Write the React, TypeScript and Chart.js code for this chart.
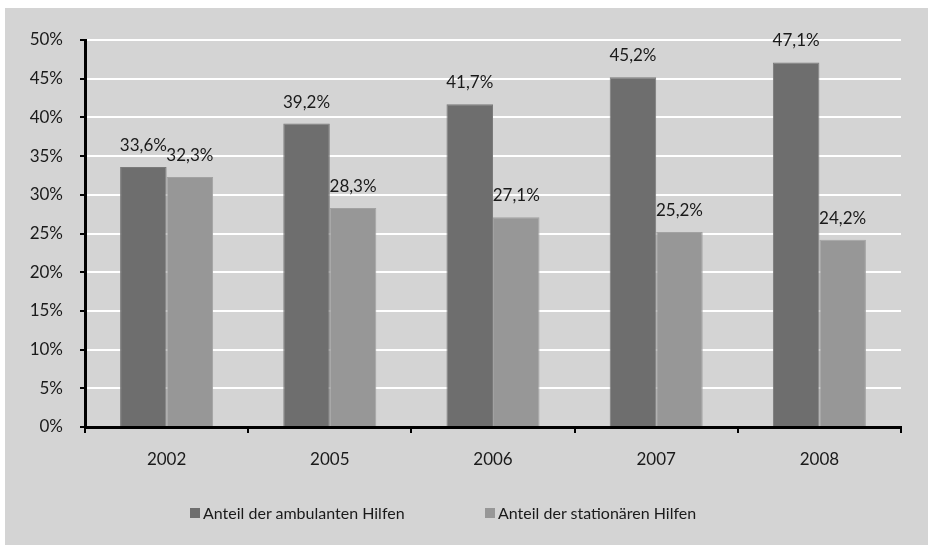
import React, { useEffect, useRef } from "react";
import { Chart, registerables } from "chart.js";

Chart.register(...registerables);

const categories = ["2002", "2005", "2006", "2007", "2008"];
const ambulant = [33.6, 39.2, 41.7, 45.2, 47.1];
const stationaer = [32.3, 28.3, 27.1, 25.2, 24.2];
const seriesNames = ["Anteil der ambulanten Hilfen", "Anteil der stationären Hilfen"];
const seriesColors = ["#6e6e6e", "#979797"];

const FONT = 'Lato, "Noto Sans", sans-serif';

const bgPlugin = {
  id: "bgPanel",
  beforeDraw(chart: any) {
    const ctx = chart.ctx;
    ctx.save();
    ctx.fillStyle = "#ffffff";
    ctx.fillRect(0, 0, chart.width, chart.height);
    ctx.fillStyle = "#d4d4d4";
    ctx.fillRect(5, 8, chart.width - 5, chart.height - 8);
    ctx.restore();
  },
};

const labelPlugin = {
  id: "valueLabels",
  afterDatasetsDraw(chart: any) {
    const ctx = chart.ctx;
    ctx.save();
    ctx.font = `17px ${FONT}`;
    ctx.fillStyle = "#1a1a1a";
    ctx.textAlign = "center";
    ctx.textBaseline = "alphabetic";
    chart.data.datasets.forEach((ds: any, di: number) => {
      const meta = chart.getDatasetMeta(di);
      meta.data.forEach((el: any, i: number) => {
        const v = ds.data[i] as number;
        const txt = v.toFixed(1).replace(".", ",") + "%";
        ctx.fillText(txt, el.x, el.y - 16);
      });
    });
    ctx.restore();
  },
};

export default function App() {
  const ref = useRef<HTMLCanvasElement | null>(null);

  useEffect(() => {
    document.body.style.margin = "0";
    if (!ref.current) return;
    const chart = new Chart(ref.current, {
      type: "bar",
      data: {
        labels: categories,
        datasets: [
          {
            label: seriesNames[0],
            data: ambulant,
            backgroundColor: seriesColors[0],
            borderColor: "#7a7a7a",
            borderWidth: 1,
            barPercentage: 1,
            categoryPercentage: 0.57,
          },
          {
            label: seriesNames[1],
            data: stationaer,
            backgroundColor: seriesColors[1],
            borderColor: "#a2a2a2",
            borderWidth: 1,
            barPercentage: 1,
            categoryPercentage: 0.57,
          },
        ],
      },
      options: {
        animation: false,
        responsive: false,
        maintainAspectRatio: false,
        devicePixelRatio: 1,
        layout: { padding: { top: 40, right: 27, left: 0, bottom: 0 } },
        plugins: {
          legend: { display: false },
          tooltip: { enabled: false },
        },
        scales: {
          x: {
            grid: {
              display: true,
              drawOnChartArea: false,
              drawTicks: true,
              tickLength: 6,
              color: "#000000",
              lineWidth: 2,
              offset: true,
            },
            border: { display: true, color: "#000000", width: 3 },
            ticks: {
              color: "#1a1a1a",
              font: { family: FONT, size: 17 },
              padding: 16,
            },
            afterFit(scale: any) {
              scale.height = 118;
            },
          },
          y: {
            min: 0,
            max: 50,
            grid: {
              color: "#ffffff",
              lineWidth: 2,
              drawTicks: true,
              tickLength: 5,
              tickColor: "#000000",
              tickWidth: 2,
            },
            border: { display: true, color: "#000000", width: 3 },
            ticks: {
              stepSize: 5,
              color: "#1a1a1a",
              font: { family: FONT, size: 17 },
              padding: 17,
              callback: (v: any) => `${v}%`,
            },
            afterFit(scale: any) {
              scale.width = 85;
            },
          },
        },
      },
      plugins: [bgPlugin, labelPlugin],
    });
    return () => chart.destroy();
  }, []);

  const legendItem = (i: number, left: number) => (
    <div
      key={i}
      style={{
        position: "absolute",
        left,
        top: 503,
        display: "flex",
        alignItems: "center",
        fontFamily: FONT,
        fontSize: 16,
        color: "#1a1a1a",
        lineHeight: "20px",
        whiteSpace: "nowrap",
      }}
    >
      <span
        style={{
          display: "inline-block",
          width: 10,
          height: 10,
          background: seriesColors[i],
          marginRight: 3,
        }}
      />
      <span>{seriesNames[i]}</span>
    </div>
  );

  return (
    <div style={{ position: "relative", width: 928, height: 545 }}>
      <canvas ref={ref} width={928} height={545} style={{ display: "block" }} />
      {legendItem(0, 190)}
      {legendItem(1, 485)}
    </div>
  );
}
